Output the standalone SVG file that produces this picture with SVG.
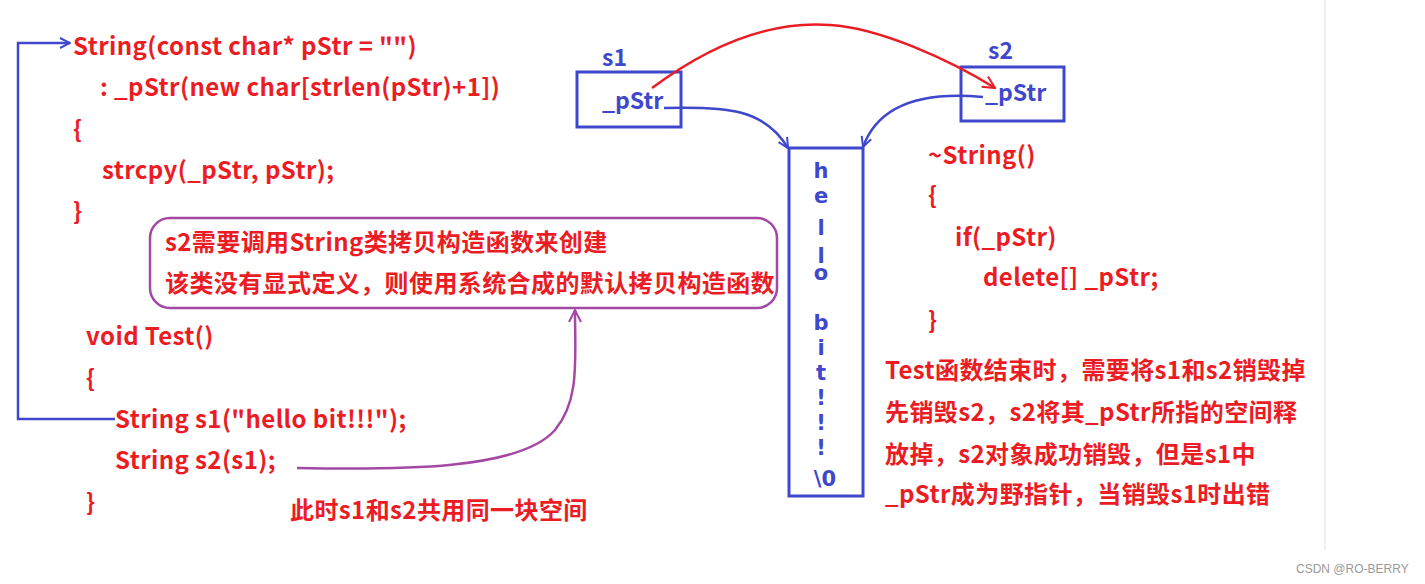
<svg xmlns="http://www.w3.org/2000/svg" width="1425" height="584" viewBox="0 0 1425 584">
<defs>
<style>
.r{fill:#ec1c24;font-family:"Noto Sans CJK SC","DejaVu Sans",sans-serif;font-weight:bold;font-size:24px;letter-spacing:0.4px}
.b{fill:#3f48cc;font-family:"Noto Sans CJK SC","DejaVu Sans",sans-serif;font-weight:bold;font-size:23px}
.h{fill:#3f48cc;font-family:"DejaVu Sans",sans-serif;font-weight:bold;font-size:21px;text-anchor:middle}
.box{fill:none;stroke:#3f48cc;stroke-width:3}
.bl{fill:none;stroke:#3f48cc;stroke-width:2.5}
.rl{fill:none;stroke:#ec1c24;stroke-width:2.5}
.pl{fill:none;stroke:#a349a4;stroke-width:2.5}
</style>
<marker id="ab" viewBox="0 0 12 12" refX="11" refY="6" markerWidth="12" markerHeight="12" markerUnits="userSpaceOnUse" orient="auto"><path d="M1,1 L11,6 L1,11" fill="none" stroke="#3f48cc" stroke-width="2"/></marker>
<marker id="ar" viewBox="0 0 14 14" refX="13" refY="7" markerWidth="14" markerHeight="14" markerUnits="userSpaceOnUse" orient="auto"><path d="M1,1 L13,7 L1,13" fill="none" stroke="#ec1c24" stroke-width="2"/></marker>
<marker id="ap" viewBox="0 0 14 14" refX="13" refY="7" markerWidth="14" markerHeight="14" markerUnits="userSpaceOnUse" orient="auto"><path d="M1,1 L13,7 L1,13" fill="none" stroke="#a349a4" stroke-width="2"/></marker>
</defs>
<rect width="1425" height="584" fill="#ffffff"/>
<line x1="1325" y1="0" x2="1325" y2="550" stroke="#f0f0f4" stroke-width="2"/>

<g id="code-ctor">
<text class="r" x="73" y="55">String(const char* pStr = "")</text>
<text class="r" x="100" y="96">: _pStr(new char[strlen(pStr)+1])</text>
<text class="r" x="73" y="138">{</text>
<text class="r" x="102" y="179">strcpy(_pStr, pStr);</text>
<text class="r" x="73" y="220">}</text>
</g>

<g id="note-copy">
<rect x="150" y="218" width="627" height="90" rx="20" fill="none" stroke="#a349a4" stroke-width="2.5"/>
<text class="r" x="165" y="251">s2需要调用String类拷贝构造函数来创建</text>
<text class="r" x="165" y="292">该类没有显式定义，则使用系统合成的默认拷贝构造函数</text>
</g>

<g id="code-test">
<text class="r" x="86" y="345">void Test()</text>
<text class="r" x="86" y="387">{</text>
<text class="r" x="115" y="428">String s1("hello bit!!!");</text>
<text class="r" x="115" y="469">String s2(s1);</text>
<text class="r" x="86" y="511">}</text>
</g>

<g id="note-share">
<text class="r" x="290" y="519">此时s1和s2共用同一块空间</text>
</g>

<g id="s1">
<text class="b" x="602" y="66">s1</text>
<rect class="box" x="577" y="72" width="104" height="55"/>
<text class="b" x="602" y="109">_pStr</text>
</g>

<g id="s2">
<text class="b" x="988" y="59">s2</text>
<rect class="box" x="961" y="67" width="103" height="54"/>
<text class="b" x="985" y="101">_pStr</text>
</g>

<g id="heap">
<rect class="box" x="789" y="148" width="74" height="348"/>
<text class="h" x="821" y="178">h</text>
<text class="h" x="821" y="203">e</text>
<text class="h" x="821" y="235">l</text>
<text class="h" x="821" y="263">l</text>
<text class="h" x="821" y="280">o</text>
<text class="h" x="821" y="330">b</text>
<text class="h" x="821" y="355">i</text>
<text class="h" x="821" y="380">t</text>
<text class="h" x="821" y="405">!</text>
<text class="h" x="821" y="430">!</text>
<text class="h" x="821" y="455">!</text>
<text class="h" x="825" y="486">\0</text>
</g>

<g id="dtor">
<text class="r" x="928" y="164">~String()</text>
<text class="r" x="928" y="204">{</text>
<text class="r" x="955" y="246">if(_pStr)</text>
<text class="r" x="983" y="286">delete[] _pStr;</text>
<text class="r" x="928" y="329">}</text>
</g>

<g id="note-destroy">
<text class="r" x="885" y="379">Test函数结束时，需要将s1和s2销毁掉</text>
<text class="r" x="885" y="421">先销毁s2，s2将其_pStr所指的空间释</text>
<text class="r" x="885" y="463">放掉，s2对象成功销毁，但是s1中</text>
<text class="r" x="885" y="503">_pStr成为野指针，当销毁s1时出错</text>
</g>

<g id="connectors">
<path class="bl" d="M115,419 L18,419 L18,43 L70,43" marker-end="url(#ab)"/>
<path class="pl" d="M297,468 C400,470 520,470 555,430 C580,400 575,360 575,310" marker-end="url(#ap)"/>
<path class="bl" d="M664,108 C730,106 765,110 788,148" marker-end="url(#ab)"/>
<path class="bl" d="M983,97 C930,92 880,100 863,147" marker-end="url(#ab)"/>
<path class="rl" d="M652,88 C730,30 790,22 830,25 C880,28 950,60 995,88" marker-end="url(#ar)"/>
</g>

<text x="1296" y="573" fill="#9a9a9a" font-family="'Liberation Sans',Arial,sans-serif" font-size="12">CSDN @RO-BERRY</text>
</svg>
